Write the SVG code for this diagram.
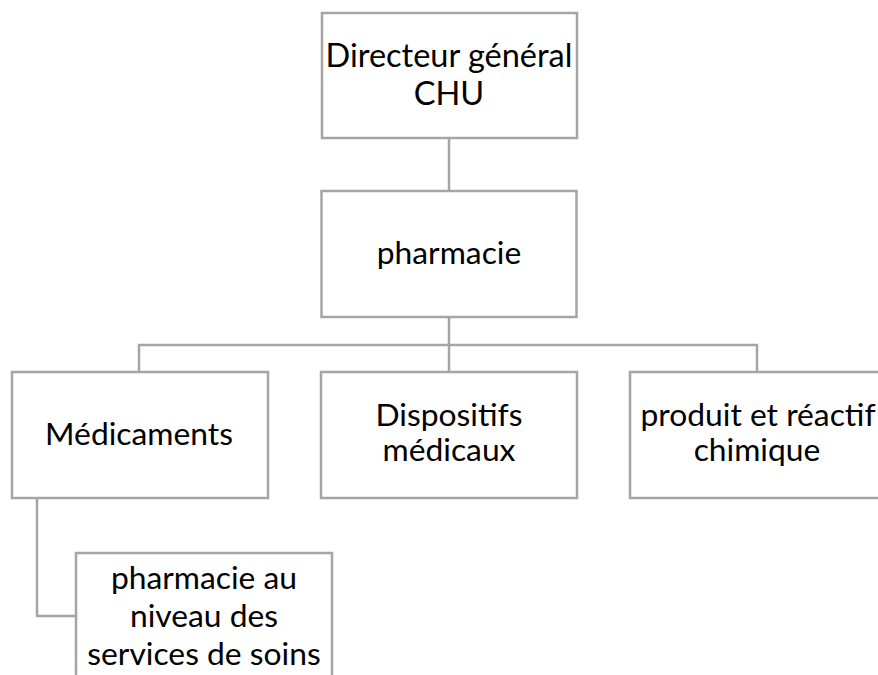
<svg xmlns="http://www.w3.org/2000/svg" width="878" height="675" viewBox="0 0 878 675">
<style>
.box{fill:#ffffff;stroke:#a5a5a5;stroke-width:2.5}
.ln{fill:none;stroke:#a5a5a5;stroke-width:2.5}
text{font-family:Lato,"Open Sans","Liberation Sans",sans-serif;font-size:31.8px;fill:#000;text-anchor:middle}
.big{font-size:32.5px}
</style>
<rect width="878" height="675" fill="#ffffff"/>
<g id="connectors">
<line class="ln" x1="449" y1="138" x2="449" y2="191"/>
<line class="ln" x1="449" y1="317" x2="449" y2="372"/>
<polyline class="ln" points="139,372 139,345 757,345 757,372"/>
<polyline class="ln" points="37,498 37,616 76,616"/>
</g>
<g id="n-directeur">
<rect class="box" x="322" y="13" width="255" height="125"/>
<text class="big" x="449" y="67">Directeur général</text>
<text class="big" x="449" y="105">CHU</text>
</g>
<g id="n-pharmacie">
<rect class="box" x="321.5" y="191" width="255" height="126"/>
<text x="449" y="264">pharmacie</text>
</g>
<g id="n-medicaments">
<rect class="box" x="12" y="372" width="256" height="126"/>
<text x="139" y="445">Médicaments</text>
</g>
<g id="n-dispositifs">
<rect class="box" x="321" y="372" width="256" height="126"/>
<text x="449" y="426">Dispositifs</text>
<text x="449" y="461">médicaux</text>
</g>
<g id="n-produit">
<rect class="box" x="630" y="372" width="256" height="126"/>
<text x="758" y="426">produit et réactif</text>
<text x="757" y="461">chimique</text>
</g>
<g id="n-services">
<rect class="box" x="76" y="553" width="256" height="126"/>
<text x="204" y="589">pharmacie au</text>
<text x="204" y="627">niveau des</text>
<text x="204" y="665">services de soins</text>
</g>
</svg>
